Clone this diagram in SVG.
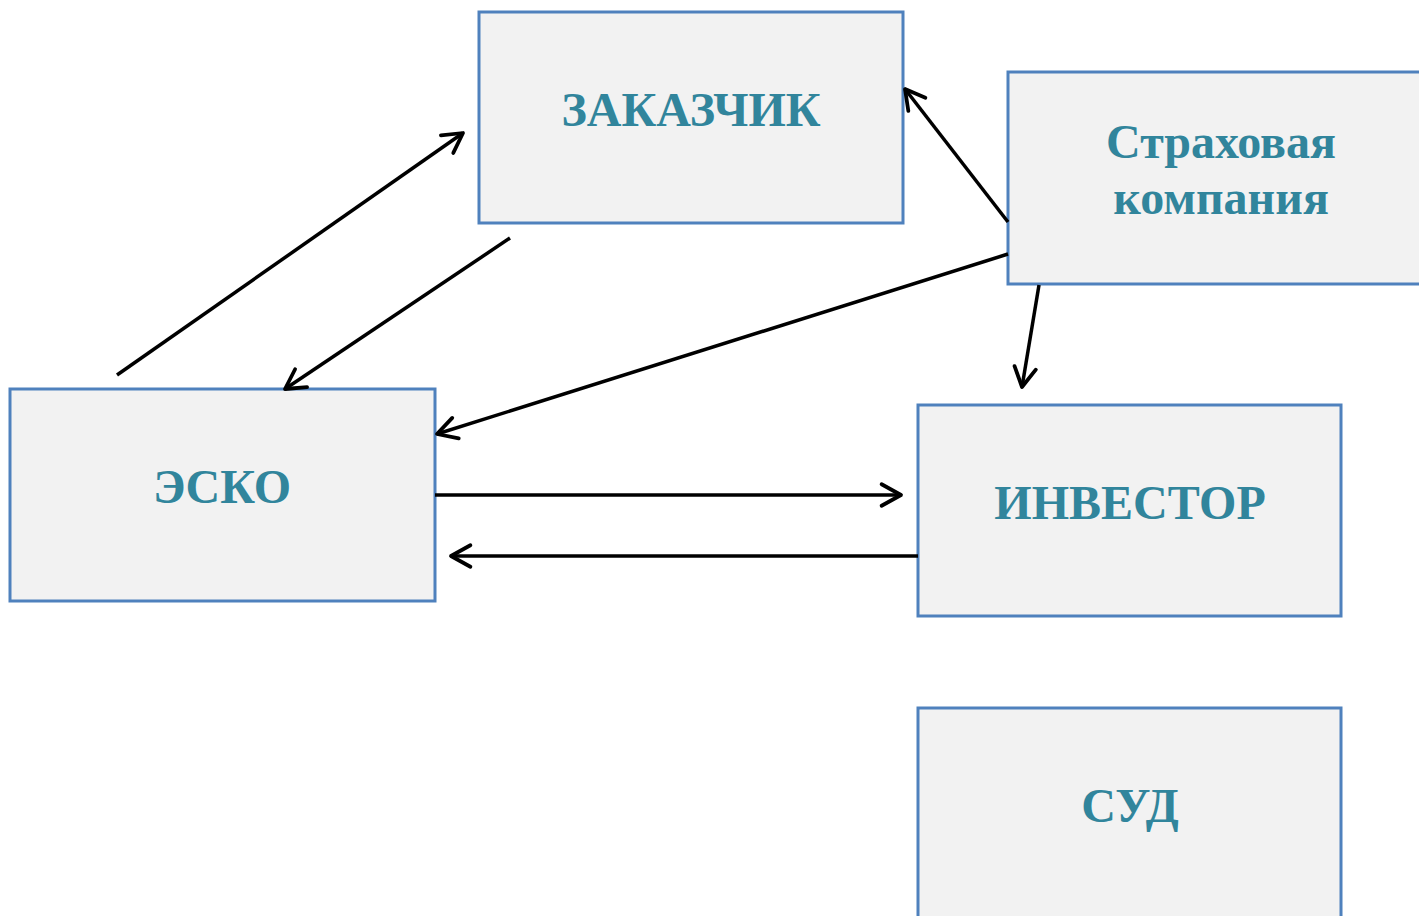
<svg xmlns="http://www.w3.org/2000/svg" width="1419" height="916" viewBox="0 0 1419 916">
<style>
.box{fill:#F2F2F2;stroke:#4F81BD;stroke-width:3}
.lbl{font-family:"Liberation Serif","Times New Roman",serif;font-weight:bold;font-size:48px;fill:#31859C;text-anchor:middle}
.con{stroke:#000;stroke-width:3.5;fill:none;marker-end:url(#arr)}
</style>
<defs>
<marker id="arr" markerUnits="userSpaceOnUse" markerWidth="28" markerHeight="28" refX="22" refY="12" viewBox="0 0 26 24" orient="auto">
<path d="M4,2 L22,12 L4,22" fill="none" stroke="#000" stroke-width="3.5" stroke-linecap="round" stroke-linejoin="round"/>
</marker>
</defs>
<rect width="1419" height="916" fill="#fff"/>
<g id="zakazchik"><rect class="box" x="479" y="12" width="424" height="211"/><text class="lbl" x="691" y="126">ЗАКАЗЧИК</text></g>
<g id="strakhovaya"><rect class="box" x="1008" y="72" width="420" height="212"/><text class="lbl" x="1221" y="158" font-size="44">Страховая</text><text class="lbl" x="1221" y="214" font-size="44">компания</text></g>
<g id="esko"><rect class="box" x="10" y="389" width="425" height="212"/><text class="lbl" x="222" y="503">ЭСКО</text></g>
<g id="investor"><rect class="box" x="918" y="405" width="423" height="211"/><text class="lbl" x="1130" y="519">ИНВЕСТОР</text></g>
<g id="sud"><rect class="box" x="918" y="708" width="423" height="220"/><text class="lbl" x="1130" y="822">СУД</text></g>
<g id="connectors">
<line class="con" x1="117" y1="375" x2="463" y2="133"/>
<line class="con" x1="510" y1="238" x2="285" y2="389"/>
<line class="con" x1="1008" y1="222" x2="905" y2="89"/>
<line class="con" x1="1008" y1="254" x2="437" y2="434"/>
<line class="con" x1="1039" y1="285" x2="1022" y2="387"/>
<line class="con" x1="435" y1="495" x2="901" y2="495"/>
<line class="con" x1="918" y1="556" x2="451" y2="556"/>
</g>
</svg>
